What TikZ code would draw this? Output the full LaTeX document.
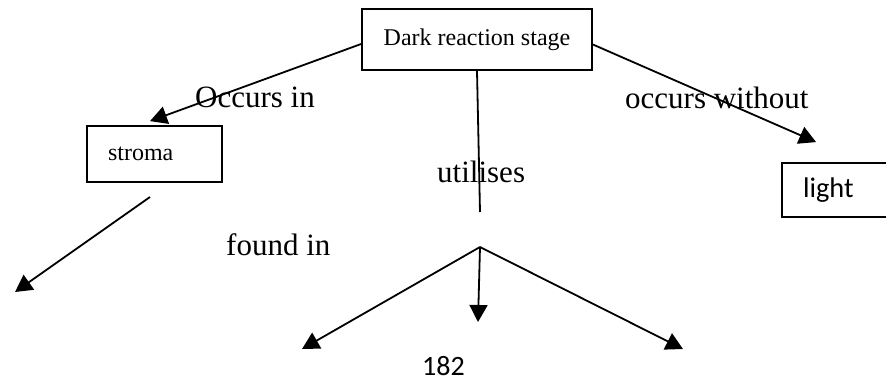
\documentclass[tikz,border=0pt]{standalone}
\usepackage{fontspec}
\setmainfont{Liberation Serif}
\newfontfamily\calfont{Carlito}
\usetikzlibrary{arrows.meta}
\begin{document}
\begin{tikzpicture}[x=1pt,y=-1pt,
  box/.style={draw,line width=1.8pt,rectangle,inner ysep=0pt,
    font=\fontsize{24}{28}\selectfont},
  lbl/.style={anchor=base west,inner sep=0pt,font=\fontsize{31}{37}\selectfont},
  arr/.style={line width=1.8pt,-{Triangle[length=17pt,width=18pt]}},
  link/.style={line width=1.8pt}]
\useasboundingbox (0,0) rectangle (886,383);
\clip (0,0) rectangle (886,383);

% boxes
\node[box,minimum width=230pt,minimum height=61pt] (dark) at (477,39.5) {Dark reaction stage};
\node[box,minimum height=56pt,text width=93pt,inner xsep=21pt,align=left] (stroma) at (154.5,154) {stroma};
\node[box,minimum height=54pt,text width=118pt,inner xsep=21pt,align=left,
  font=\calfont\fontsize{28.4}{32}\selectfont] (light) at (862,190) {light};

% link labels
\node[lbl] (occin) at (195,107) {Occurs in};
\node[lbl] (occwo) at (625,108) {occurs without};
\node[lbl] (util) at (437,182) {utilises};
\node[lbl] (found) at (226,255) {found in};
\node[anchor=base west,inner sep=0pt,font=\calfont\fontsize{28}{32}\selectfont] (page) at (422,375) {182};

% free ends
\coordinate (utilend) at (480,212);
\coordinate (fork) at (480,247);
\coordinate (leftend) at (302,349);
\coordinate (midend) at (478,322);
\coordinate (rightend) at (683,349);
\coordinate (strstart) at (150,197);
\coordinate (strend) at (15,292);

% connectors
\draw[arr] ([yshift=-4.5pt]dark.west) -- ([xshift=-4.5pt,yshift=4pt]stroma.north);
\draw[arr] ([yshift=-5pt]dark.east) -- ([xshift=35pt,yshift=20pt]light.north west);
\draw[link] (dark.south) -- (utilend);
\draw[arr] (fork) -- (leftend);
\draw[arr] (fork) -- (midend);
\draw[arr] (fork) -- (rightend);
\draw[arr] (strstart) -- (strend);
\end{tikzpicture}
\end{document}
